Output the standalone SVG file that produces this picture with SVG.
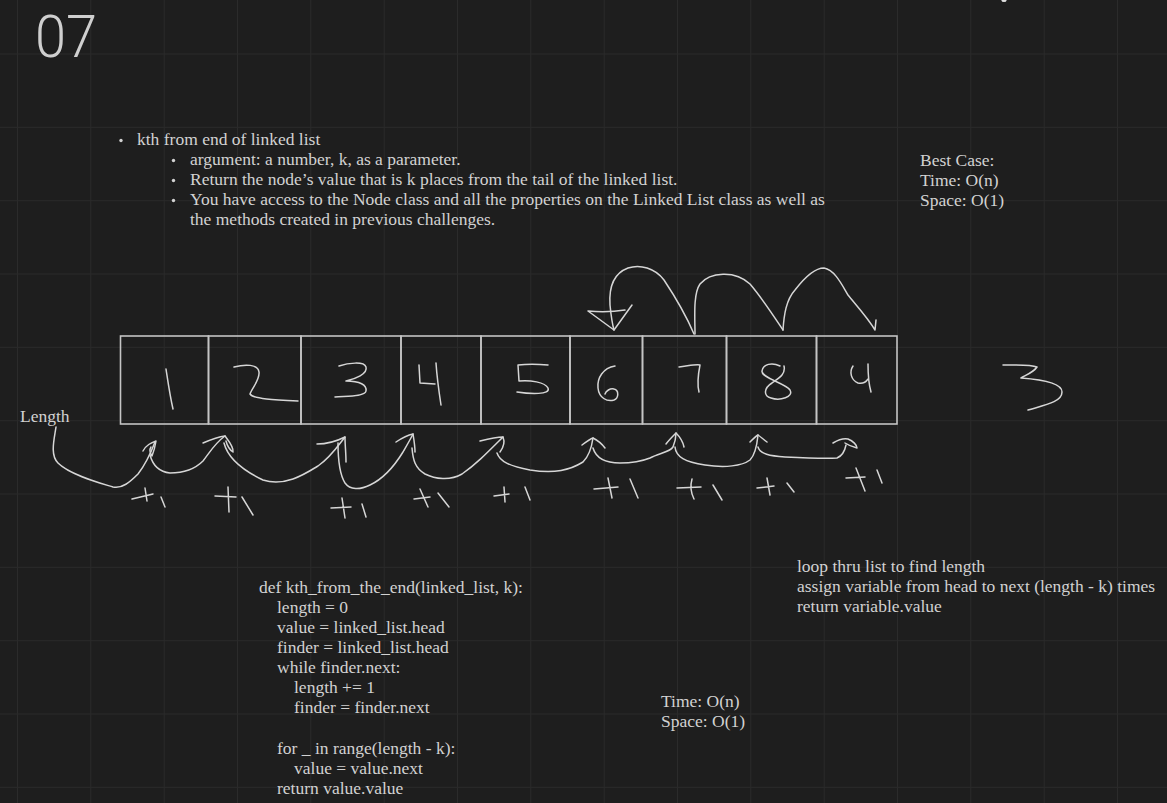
<svg xmlns="http://www.w3.org/2000/svg" width="1167" height="803" viewBox="0 0 1167 803">
<style>
.t{font-family:"Liberation Serif","Times New Roman",serif;font-size:17.5px;fill:#d2d2d2}
.ink{fill:none;stroke:#d6d6d6;stroke-width:1.5;stroke-linecap:round;stroke-linejoin:round}
.cell{fill:none;stroke:#c4c4c4;stroke-width:1.6}
.grid{fill:none;stroke:#2b2b2b;stroke-width:1}
.dot{fill:#d2d2d2}
</style>
<rect x="0" y="0" width="1167" height="803" fill="#1e1e1e"/>
<path class="grid" d="M17.5,0V803M90.8,0V803M164.2,0V803M237.5,0V803M310.8,0V803M384.2,0V803M457.5,0V803M530.8,0V803M604.2,0V803M677.5,0V803M750.8,0V803M824.2,0V803M897.5,0V803M970.8,0V803M1044.2,0V803M1117.5,0V803M0,54H1167M0,127.3H1167M0,200.7H1167M0,274H1167M0,347.3H1167M0,420.7H1167M0,494H1167M0,567.3H1167M0,640.7H1167M0,714H1167M0,787.3H1167"/>
<ellipse cx="1004" cy="0.5" rx="2.5" ry="1.5" fill="#e0e0e0"/>

<g id="title"><text x="35" y="57" textLength="62" lengthAdjust="spacingAndGlyphs" style="font-family:Roboto,'Liberation Sans',sans-serif;font-size:60px;font-weight:300;fill:#cfcfcf">07</text></g>

<g id="notes">
<circle class="dot" cx="121" cy="140.5" r="1.7"/>
<text class="t" x="137" y="145">kth from end of linked list</text>
<circle class="dot" cx="173.5" cy="160.5" r="1.7"/>
<text class="t" x="190" y="165">argument: a number, k, as a parameter.</text>
<circle class="dot" cx="173.5" cy="180.5" r="1.7"/>
<text class="t" x="190" y="185">Return the node’s value that is k places from the tail of the linked list.</text>
<circle class="dot" cx="173.5" cy="200.5" r="1.7"/>
<text class="t" x="190" y="205">You have access to the Node class and all the properties on the Linked List class as well as</text>
<text class="t" x="190" y="225">the methods created in previous challenges.</text>
</g>

<g id="bestcase">
<text class="t" x="920" y="166">Best Case:</text>
<text class="t" x="920" y="186">Time: O(n)</text>
<text class="t" x="920" y="206">Space: O(1)</text>
</g>

<g id="length-label"><text class="t" x="20" y="422">Length</text></g>

<g id="cell-1"><rect class="cell" x="120.5" y="336" width="88" height="88"/><path class="ink" d="M166,369 C168,382 170,396 173,409"/></g>
<g id="cell-2"><rect class="cell" x="208.5" y="336" width="92.5" height="88"/><path class="ink" d="M234,367 C245,364 258,364 259,372 C260,380 252,388 250,394 C253,399 275,400 298,401"/></g>
<g id="cell-3"><rect class="cell" x="301" y="336" width="100" height="88"/><path class="ink" d="M339,366 C348,363 364,361 366,367 C368,374 355,379 346,381 C360,381 367,385 366,391 C365,397 345,396 335,397"/></g>
<g id="cell-4"><rect class="cell" x="401" y="336" width="80" height="88"/><path class="ink" d="M419,365 L420,383 L435,384 M436,363 C437,378 439,392 441,405"/></g>
<g id="cell-5"><rect class="cell" x="481" y="336" width="89" height="88"/><path class="ink" d="M548,365 C538,364 526,364 518,365 L519,381 C530,380 545,382 548,388 C551,395 530,394 517,392"/></g>
<g id="cell-6"><rect class="cell" x="570" y="336" width="72.5" height="88"/><path class="ink" d="M615,366 C603,368 597,378 598,388 C599,398 607,402 614,400 C619,398 619,390 614,389 C610,388 606,391 605,394"/></g>
<g id="cell-7"><rect class="cell" x="642.5" y="336" width="84" height="88"/><path class="ink" d="M679,367 C688,366 696,364 700,365 C698,375 697,384 699,392"/></g>
<g id="cell-8"><rect class="cell" x="726.5" y="336" width="90" height="88"/><path class="ink" d="M780,366 C772,362 763,364 762,371 C761,378 785,383 790,390 C794,397 780,401 771,398 C763,396 764,388 772,383 C779,378 786,374 784,366"/></g>
<g id="cell-9"><rect class="cell" x="816.5" y="336" width="80.5" height="88"/><path class="ink" d="M853,366 C849,372 851,380 858,383 C863,384 866,382 868,379 M868,364 C868,375 869,385 871,392"/></g>

<g id="answer"><path class="ink" d="M1003,365 C1015,365 1030,364 1037,367 C1034,372 1026,375 1021,378 C1035,379 1062,382 1062,392 C1062,402 1045,405 1028,410"/></g>

<g id="connectors">
<path class="ink" d="M694,334 C688,320 676,298 664,280 C655,268 640,264 628,268 C612,274 609,290 610,305 C611,315 612,323 614,330"/>
<path class="ink" d="M588,311 L614,330 L632,305 M588,311 C600,312 612,312 625,310"/>
<path class="ink" d="M695,334 C695,318 693,294 700,284 C710,272 735,270 750,284 C762,298 775,318 783,330"/>
<path class="ink" d="M783,330 C784,315 786,300 795,290 C805,277 815,268 824,268 C835,270 842,285 848,295 C856,305 868,318 875,330 L876,320"/>

<path class="ink" d="M56,427 C54,440 50,455 58,463 C70,475 100,483 113,487 C122,489 130,482 138,474 C145,465 150,455 155,442"/>
<path class="ink" d="M143,451 C146,445 151,443 156,441 C155,447 154,451 152,456 C150,453 149,450 151,447"/>
<path class="ink" d="M150,455 C153,466 160,472 170,473 C185,473 195,469 203,461 C210,452 215,443 225,436"/>
<path class="ink" d="M203,443 C210,440 217,437 225,436 C228,440 234,447 233,452 C230,450 227,445 226,441"/>
<path class="ink" d="M224,443 C227,455 238,468 263,480 C285,487 305,474 318,466 C330,458 338,446 345,437"/>
<path class="ink" d="M317,444 C327,444 337,441 345,437 C345,445 346,453 346,462"/>
<path class="ink" d="M338,443 C338,460 340,475 345,483 C350,490 360,490 370,485 C385,478 395,465 403,452 C407,445 410,440 413,434"/>
<path class="ink" d="M396,442 C402,438 408,435 413,434 C414,440 415,446 415,452"/>
<path class="ink" d="M412,448 C413,460 415,468 425,474 C435,479 450,481 462,474 C475,465 485,455 503,437"/>
<path class="ink" d="M480,441 C488,439 496,437 503,437 C505,442 503,448 500,452"/>
<path class="ink" d="M497,453 C500,462 510,466 530,470 C555,474 570,470 583,462 C590,455 592,445 593,438"/>
<path class="ink" d="M582,445 C586,442 590,439 593,438 C597,440 602,444 605,448"/>
<path class="ink" d="M593,448 C596,458 605,463 620,463 C632,463 640,462 650,458 C660,453 670,452 673,447 C675,442 676,438 676,433"/>
<path class="ink" d="M666,444 C669,440 673,436 676,433 C680,437 683,442 684,447"/>
<path class="ink" d="M675,447 C676,457 685,462 705,465 C725,468 742,466 750,460 C755,455 757,445 758,435"/>
<path class="ink" d="M750,442 C753,439 756,436 758,435 C761,437 764,440 767,442"/>
<path class="ink" d="M758,447 C760,454 770,456 785,457 C805,458 825,459 837,458 C842,456 845,450 846,445"/>
<path class="ink" d="M833,443 C838,440 843,438 848,439 C853,441 857,445 857,448 C853,447 848,445 845,443"/>
</g>

<g id="increments">
<path class="ink" d="M132,499 L153,494 M145,488 L147,501 M161,497 L165,507"/>
<path class="ink" d="M215,496 L236,497 M228,487 L229,512 M242,497 L253,515"/>
<path class="ink" d="M331,508 L351,507 M342,498 L345,518 M362,504 L366,517"/>
<path class="ink" d="M414,499 L430,497 M420,489 L428,507 M438,493 L449,507"/>
<path class="ink" d="M494,496 L509,494 M504,487 L505,502 M525,487 L530,500"/>
<path class="ink" d="M594,489 L618,487 M608,478 L612,498 M630,479 L638,498"/>
<path class="ink" d="M677,488 L701,487 M692,479 C690,486 691,493 694,499 M713,485 L722,500"/>
<path class="ink" d="M757,488 L774,486 M767,478 L770,495 M787,483 L794,492"/>
<path class="ink" d="M846,478 L865,477 M856,468 L865,491 M877,470 L882,483"/>
</g>

<g id="code">
<text class="t" x="259" y="593">def kth_from_the_end(linked_list, k):</text>
<text class="t" x="277" y="613">length = 0</text>
<text class="t" x="277" y="633">value = linked_list.head</text>
<text class="t" x="277" y="653">finder = linked_list.head</text>
<text class="t" x="277" y="673">while finder.next:</text>
<text class="t" x="294" y="693">length += 1</text>
<text class="t" x="294" y="713">finder = finder.next</text>
<text class="t" x="277" y="754">for _ in range(length - k):</text>
<text class="t" x="294" y="774">value = value.next</text>
<text class="t" x="277" y="794">return value.value</text>
</g>

<g id="algorithm">
<text class="t" x="797" y="572">loop thru list to find length</text>
<text class="t" x="797" y="592">assign variable from head to next (length - k) times</text>
<text class="t" x="797" y="612">return variable.value</text>
</g>

<g id="complexity">
<text class="t" x="661" y="707">Time: O(n)</text>
<text class="t" x="661" y="727">Space: O(1)</text>
</g>
</svg>
